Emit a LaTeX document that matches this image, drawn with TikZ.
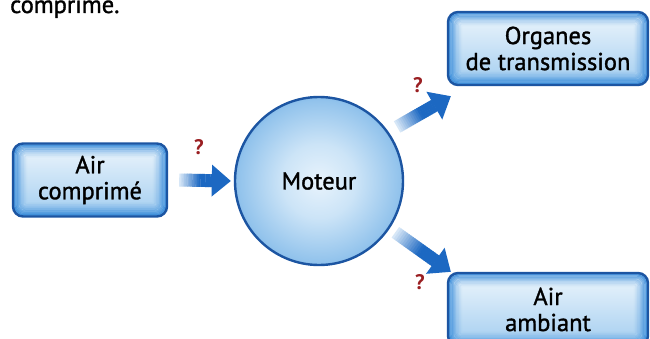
\documentclass[tikz,border=0pt]{standalone}
\usepackage{fontspec}
\setmainfont{PT Sans}
\newfontfamily\medfont{PT Sans}[FakeBold=1.3]
\usetikzlibrary{calc}
\definecolor{bordblue}{HTML}{1C55A2}
\definecolor{glowblue}{HTML}{2F86D8}
\definecolor{paletop}{HTML}{EEF6FC}
\definecolor{palebot}{HTML}{A2CDF0}
\definecolor{arrblue}{HTML}{1C68C2}
\definecolor{arrpale}{HTML}{E6F1FB}
\definecolor{qred}{HTML}{9A1F22}
\definecolor{ballca}{HTML}{E8F3FC}
\definecolor{ballcb}{HTML}{CCE4F7}
\definecolor{ballcc}{HTML}{92C3EC}
\definecolor{ballcd}{HTML}{4E99DF}
\definecolor{ballce}{HTML}{2A78CC}
\pgfdeclareradialshading{moteurball}{\pgfpoint{0bp}{0bp}}{color(0bp)=(ballca); color(11bp)=(ballcb); color(24bp)=(ballcc); color(31.5bp)=(ballcd); color(35.4bp)=(ballce); color(50bp)=(ballce)}
\newcommand\boxfont{\medfont\fontsize{24.5}{26}\selectfont}
\newcommand\fatarrow[2]{%
  \coordinate (fah) at ($(#2)!19pt!(#1)$);
  \foreach \i in {1,...,20}{
    \pgfmathsetmacro\ta{(\i-1)/20}
    \pgfmathsetmacro\tb{\i/20+0.01}
    \pgfmathsetmacro\pc{min(100,\i*7.5)}
    \draw[line width=13pt, arrblue!\pc!arrpale] ($(#1)!\ta!(fah)$) -- ($(#1)!\tb!(fah)$);
  }
  \fill[arrblue] ($(fah)!16pt!90:(#2)$) -- (#2) -- ($(fah)!16pt!-90:(#2)$) -- cycle;
}
\tikzset{
  boxstyle/.style={rectangle, rounded corners=10pt, draw=bordblue, line width=2.4pt,
    minimum width=#1, minimum height=73pt, inner sep=0pt, align=center, font=\boxfont,
    path picture={
      \shade[top color=paletop, bottom color=palebot]
        (path picture bounding box.south west) rectangle (path picture bounding box.north east);
      \foreach \k in {0,...,11}{
        \pgfmathsetmacro\op{0.95*(1-\k/12)^1.5}
        \pgfmathsetlengthmacro\dd{\k*1.2pt+0.6pt}
        \pgfmathsetlengthmacro\rc{max(1pt,10pt-\k*0.9pt)}
        \draw[glowblue, opacity=\op, line width=1.25pt, rounded corners=\rc]
          ($(path picture bounding box.south west)+(\dd,\dd)$) rectangle
          ($(path picture bounding box.north east)-(\dd,\dd)$);
      }
    }},
  ballstyle/.style={circle, minimum size=168pt, inner sep=0pt, draw=bordblue,
    line width=2.4pt, shade, shading=moteurball, font=\boxfont},
  qmark/.style={text=qred, font=\bfseries\fontsize{21}{21}\selectfont, inner sep=0pt}
}
\begin{document}
\begin{tikzpicture}[x=1pt,y=1pt]
\useasboundingbox (0,0) rectangle (650,338);
\fill[white] (0,0) rectangle (650,338);
\clip (0,0) rectangle (650,338);
\node[anchor=base west, inner sep=0pt, font=\boxfont] (cap) at (10,325) {comprimé.};
\node[boxstyle=154pt] (air) at (90,158) {Air\\comprimé};
\node[ballstyle] (mot) at (319,157) {Moteur};
\node[boxstyle=200pt] (org) at (548,289.5) {Organes\\de transmission};
\node[boxstyle=200pt] (amb) at (548,28.5) {Air\\ambiant};
\coordinate (a1s) at ($(air.east)+(11pt,0)$);
\coordinate (a1e) at ($(mot.west)+(-3pt,0)$);
\coordinate (a2s) at ($(mot.center)+(34.7:95pt)$);
\coordinate (a2e) at ($(org.south west)+(4pt,-10pt)$);
\coordinate (a3s) at ($(mot.center)+(-33.9:92pt)$);
\coordinate (a3e) at ($(amb.north west)+(4pt,0pt)$);
\fatarrow{a1s}{a1e}
\fatarrow{a2s}{a2e}
\fatarrow{a3s}{a3e}
\node[qmark] (q1) at (199,191) {?};
\node[qmark] (q2) at (418,253) {?};
\node[qmark] (q3) at (420,56) {?};
\end{tikzpicture}
\end{document}
